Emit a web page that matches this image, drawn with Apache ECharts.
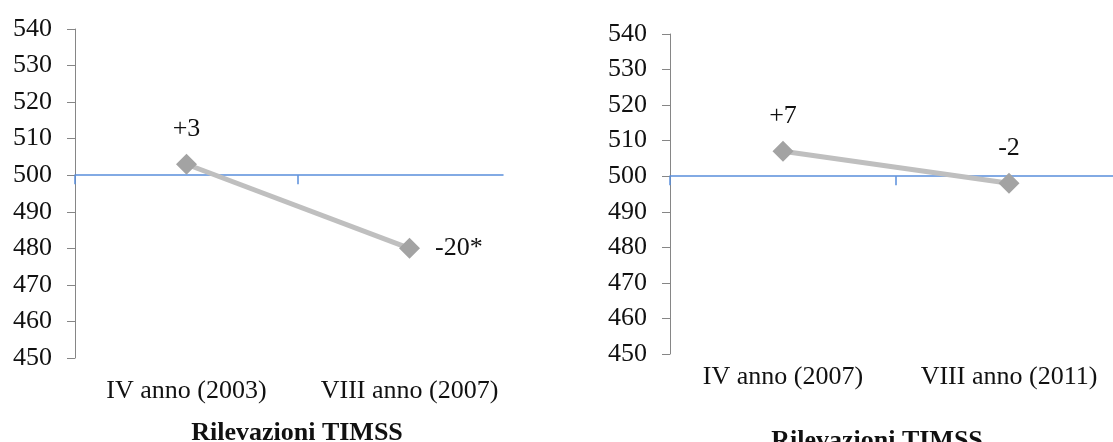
<!DOCTYPE html>
<html>
<head>
<meta charset="utf-8">
<script src="https://cdn.jsdelivr.net/npm/echarts@6/dist/echarts.min.js"></script>
<style>
html,body{margin:0;padding:0;background:#fff;}
#c{width:1113px;height:442px;}
</style>
</head>
<body>
<div id="c"></div>
<script>
// ---- data ----
var leftCategories = ['IV anno (2003)', 'VIII anno (2007)'];
var leftValues = [503, 480];
var leftLabels = ['+3', '-20*'];

var rightCategories = ['IV anno (2007)', 'VIII anno (2011)'];
var rightValues = [507, 498];
var rightLabels = ['+7', '-2'];

var yMin = 450, yMax = 540, yStep = 10, crossValue = 500;
var axisTitle = 'Rilevazioni TIMSS';

// ---- layout / style ----
var FONT = '"Liberation Serif", "Times New Roman", serif';
var BLUE = '#5A8EDC';
var grids = [
  {left: 75, top: 29, width: 446, height: 329, outerBoundsMode: 'none', containLabel: false},
  {left: 670, top: 34, width: 452, height: 320, outerBoundsMode: 'none', containLabel: false}
];
var leftCrossLen = 428; // visible length of the left crossing axis line
function crossY(g) { return g.top + g.height * (yMax - crossValue) / (yMax - yMin); }
// extra grid holding only the (shorter) crossing axis of the left chart
grids.push({left: grids[0].left, top: crossY(grids[0]) - 1, width: leftCrossLen, height: 1, outerBoundsMode: 'none', containLabel: false});

function yAxisOf(i) {
  return {
    type: 'value', gridIndex: i, min: yMin, max: yMax, interval: yStep,
    splitLine: {show: false},
    axisLine: {show: true, lineStyle: {color: '#868686', width: 1}},
    axisTick: {show: true, length: 8, lineStyle: {color: '#868686'}},
    axisLabel: {fontFamily: FONT, fontSize: 26, color: '#111', margin: 23}
  };
}
function labelAxisOf(i, cats, margin) {
  return {
    type: 'category', gridIndex: i, data: cats, boundaryGap: true,
    axisLine: {show: false}, axisTick: {show: false},
    axisLabel: {fontFamily: FONT, fontSize: 26, color: '#111', margin: margin, interval: 0}
  };
}
var rightCross = {
  type: 'category', gridIndex: 1, data: rightCategories, boundaryGap: true,
  position: 'bottom', offset: crossY(grids[1]) - (grids[1].top + grids[1].height),
  axisLine: {show: true, lineStyle: {color: BLUE, width: 1.5}},
  axisTick: {show: true, length: 9, lineStyle: {color: BLUE, width: 1.5}},
  axisLabel: {show: false}
};
var leftCross = {
  type: 'value', gridIndex: 2, min: 0,
  max: leftCategories.length * leftCrossLen / grids[0].width,
  splitLine: {show: false},
  axisLine: {show: true, lineStyle: {color: BLUE, width: 1.5}},
  axisTick: {show: true, length: 9, customValues: [0, 1], lineStyle: {color: BLUE, width: 1.5}},
  axisLabel: {show: false}
};
function seriesOf(i, values, labels, xIdx) {
  return {
    type: 'line', xAxisIndex: xIdx, yAxisIndex: i,
    data: values.map(function (v, k) {
      var isTop = !(i === 0 && k === 1);
      return {
        value: v,
        label: {
          show: true, formatter: labels[k],
          position: isTop ? 'top' : 'right',
          distance: isTop ? 12 : 15
        }
      };
    }),
    symbol: 'diamond', symbolSize: 21,
    itemStyle: {color: '#A3A3A3'},
    lineStyle: {color: '#BFBFBF', width: 5},
    label: {fontFamily: FONT, fontSize: 26, color: '#111'},
    silent: true, animation: false, z: 5
  };
}

var chart = echarts.init(document.getElementById('c'), null, {renderer: 'canvas'});
chart.setOption({
  animation: false,
  grid: grids,
  xAxis: [
    labelAxisOf(0, leftCategories, 20), leftCross,
    labelAxisOf(1, rightCategories, 10), rightCross
  ],
  yAxis: [
    yAxisOf(0), yAxisOf(1),
    {type: 'value', gridIndex: 2, show: false, min: 0, max: 1}
  ],
  series: [
    seriesOf(0, leftValues, leftLabels, 0),
    seriesOf(1, rightValues, rightLabels, 2)
  ],
  graphic: [
    {type: 'text', x: 297, y: 420, style: {text: axisTitle, fontFamily: FONT, fontSize: 26, fontWeight: 'bold', fill: '#111', textAlign: 'center', textVerticalAlign: 'top'}},
    {type: 'text', x: 877, y: 428, style: {text: axisTitle, fontFamily: FONT, fontSize: 26, fontWeight: 'bold', fill: '#111', textAlign: 'center', textVerticalAlign: 'top'}}
  ]
});
</script>
</body>
</html>
